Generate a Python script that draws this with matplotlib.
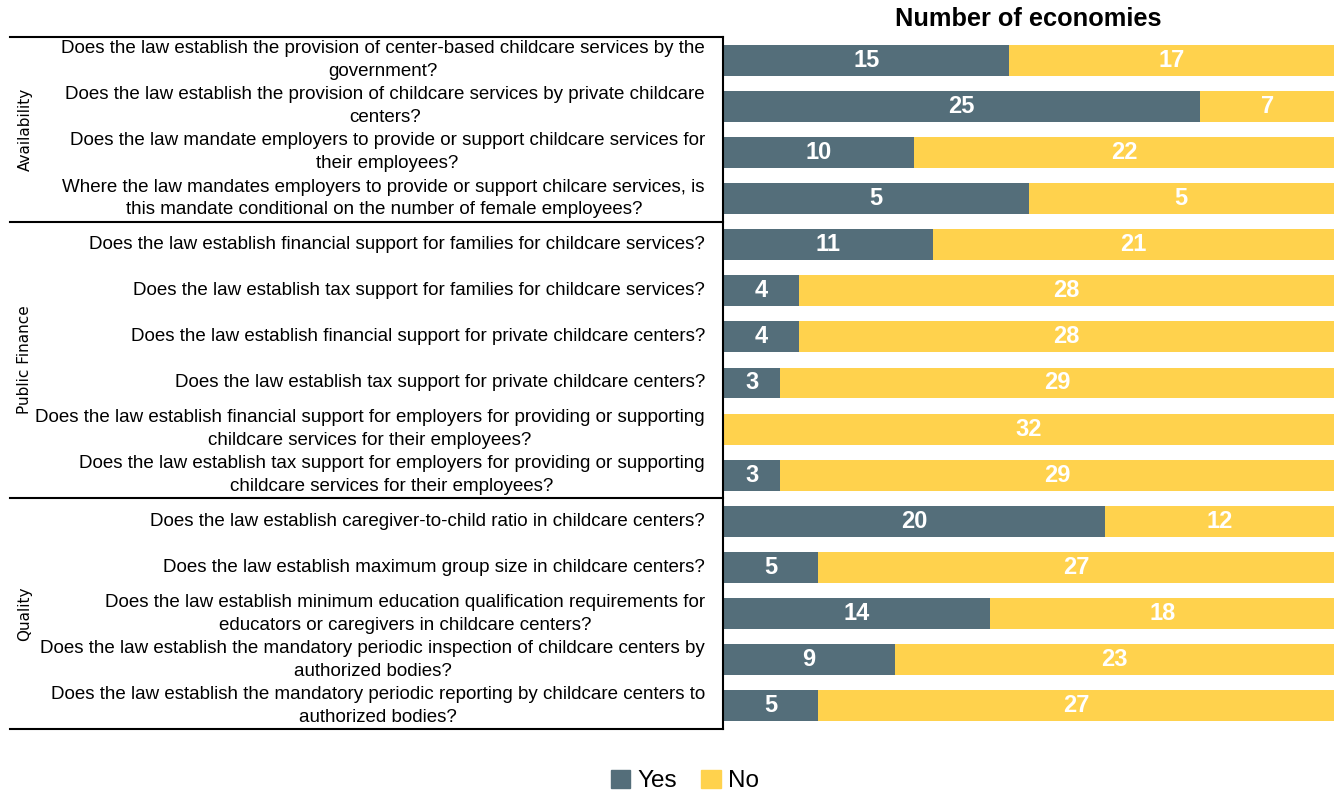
import matplotlib
matplotlib.use("Agg")
import matplotlib.pyplot as plt
from matplotlib.patches import Patch

preguntas = [
    "Does the law establish the provision of center-based childcare services by the\ngovernment?",
    "Does the law establish the provision of childcare services by private childcare\ncenters?",
    "Does the law mandate employers to provide or support childcare services for\ntheir employees?",
    "Where the law mandates employers to provide or support chilcare services, is\nthis mandate conditional on the number of female employees?",
    "Does the law establish financial support for families for childcare services?",
    "Does the law establish tax support for families for childcare services?",
    "Does the law establish financial support for private childcare centers?",
    "Does the law establish tax support for private childcare centers?",
    "Does the law establish financial support for employers for providing or supporting\nchildcare services for their employees?",
    "Does the law establish tax support for employers for providing or supporting\nchildcare services for their employees?",
    "Does the law establish caregiver-to-child ratio in childcare centers?",
    "Does the law establish maximum group size in childcare centers?",
    "Does the law establish minimum education qualification requirements for\neducators or caregivers in childcare centers?",
    "Does the law establish the mandatory periodic inspection of childcare centers by\nauthorized bodies?",
    "Does the law establish the mandatory periodic reporting by childcare centers to\nauthorized bodies?",
]
si = [15, 25, 10, 5, 11, 4, 4, 3, 0, 3, 20, 5, 14, 9, 5]
no = [17, 7, 22, 5, 21, 28, 28, 29, 32, 29, 12, 27, 18, 23, 27]
grupos = ["Availability", "Public Finance", "Quality"]
grupo_filas = [(0, 3), (4, 9), (10, 14)]

COLOR_SI = "#546E7A"
COLOR_NO = "#FFD24D"
FUENTE = "Liberation Sans"

figura = plt.figure(figsize=(13.37, 7.95), dpi=100)
ejes = figura.add_axes([723 / 1337, 1 - 729 / 795, 611 / 1337, 692 / 795])

filas = list(range(len(preguntas)))
total = [a + b for a, b in zip(si, no)]
frac_si = [a / t for a, t in zip(si, total)]
frac_no = [b / t for b, t in zip(no, total)]

ejes.barh(filas, frac_si, color=COLOR_SI, height=0.67)
ejes.barh(filas, frac_no, left=frac_si, color=COLOR_NO, height=0.67)

for i in filas:
    if si[i] > 0:
        ejes.text(frac_si[i] / 2, i, str(si[i]), ha="center", va="center",
                  color="white", fontsize=17, fontweight="bold", family=FUENTE)
    if no[i] > 0:
        ejes.text(frac_si[i] + frac_no[i] / 2, i, str(no[i]), ha="center", va="center",
                  color="white", fontsize=17, fontweight="bold", family=FUENTE)

ejes.set_xlim(0, 1)
ejes.set_ylim(len(preguntas) - 0.5, -0.5)
ejes.set_xticks([])
ejes.set_yticks([])
for lado in ["top", "right", "bottom"]:
    ejes.spines[lado].set_visible(False)
ejes.spines["left"].set_color("black")
ejes.spines["left"].set_linewidth(1.5)

trans = ejes.get_yaxis_transform()
x_izq = (10 - 723) / 611
x_texto = (705 - 723) / 611
x_grupo = (25 - 723) / 611

for i, p in enumerate(preguntas):
    ejes.text(x_texto, i, p, transform=trans, ha="right", va="center",
              multialignment="center", fontsize=13.5, family=FUENTE,
              linespacing=1.45)

for nombre, (a, b) in zip(grupos, grupo_filas):
    ejes.text(x_grupo, (a + b) / 2, nombre, transform=trans, rotation=90,
              ha="center", va="center", fontsize=11)

for y in [-0.5, 3.5, 9.5, 14.5]:
    ejes.plot([x_izq, 0], [y, y], transform=trans, color="black",
              linewidth=1.5, clip_on=False)

ejes.set_title("Number of economies", fontsize=18.3, fontweight="bold",
               family=FUENTE, pad=8)

figura.legend(handles=[Patch(color=COLOR_SI, label="Yes"), Patch(color=COLOR_NO, label="No")],
              loc="center", bbox_to_anchor=(685 / 1337, 1 - 781 / 795), ncol=2,
              frameon=False, handlelength=0.8, handleheight=0.8,
              handletextpad=0.3, columnspacing=1.0, prop={"family": FUENTE, "size": 17.5})

figura.savefig("out.png", dpi=100)
plt.close(figura)
